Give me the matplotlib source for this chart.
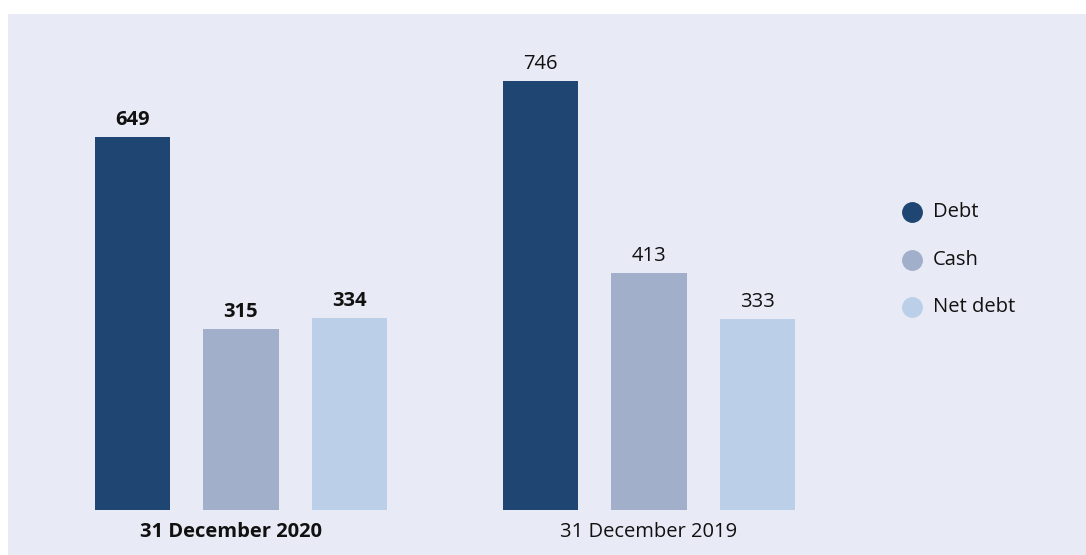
import matplotlib
matplotlib.use("Agg")
import matplotlib.pyplot as plt
from matplotlib.patches import Rectangle
from matplotlib.lines import Line2D

plt.rcParams['font.family'] = ['Open Sans', 'DejaVu Sans']

periods = ["31 December 2020", "31 December 2019"]
series = ["Debt", "Cash", "Net debt"]
values = {
    "Debt": [649, 746],
    "Cash": [315, 413],
    "Net debt": [334, 333],
}
colors = {"Debt": "#1F4672", "Cash": "#A2AFCA", "Net debt": "#BBD0E8"}
bold_period = [True, False]

W, H = 1086, 555
FS = 14.5
fig = plt.figure(figsize=(W / 100, H / 100), dpi=100, facecolor="white")

# light panel behind the chart
panel_left, panel_top = 8, 14
fig.patches.append(Rectangle((panel_left / W, 0), 1 - panel_left / W, 1 - panel_top / H,
                             transform=fig.transFigure, facecolor="#E8EBF5",
                             edgecolor="none", zorder=-5))

ax = fig.add_axes([panel_left / W, 0, 1 - panel_left / W, 1 - panel_top / H], zorder=2)
ax.set_facecolor("none")
ax.set_xlim(-0.571, 2.071)
ax.set_ylim(-78.3, 862.6)
ax.axis("off")

bar_w = 0.186
step = 0.266
for i, name in enumerate(series):
    off = (i - 1) * step
    for g, v in enumerate(values[name]):
        x = g + off
        ax.bar(x, v, width=bar_w, color=colors[name], zorder=2)
        ax.annotate(f"{v}", (x, v), xytext=(0, 5), textcoords="offset points",
                    ha="center", va="bottom", fontsize=FS,
                    fontweight="bold" if bold_period[g] else "normal", color="#111111")

for g, label in enumerate(periods):
    ax.text(g + (-0.025 if g == 0 else 0), -38, label, ha="center", va="center",
            fontsize=FS, fontweight="bold" if bold_period[g] else "normal", color="#111111")

# legend
leg_y = [212, 260, 307]
for name, py in zip(series, leg_y):
    fig.add_artist(Line2D([912 / W], [1 - py / H], marker="o", markersize=14,
                          color=colors[name], linestyle="none",
                          transform=fig.transFigure, zorder=3))
    fig.text(933 / W, 1 - py / H, name, ha="left", va="center", fontsize=FS,
             color="#111111", zorder=3)

fig.savefig("out.png", dpi=100, facecolor="white")
